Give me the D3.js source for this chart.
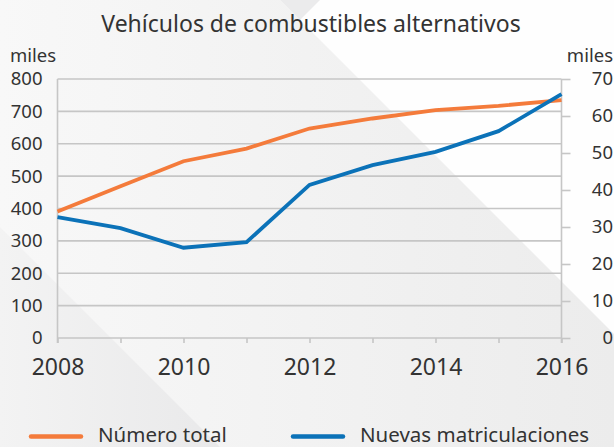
<!DOCTYPE html>
<html>
<head>
<meta charset="utf-8">
<script src="https://cdn.jsdelivr.net/npm/d3@7"></script>
<style>
    body { margin: 0; }
    text { font-family: "Noto Sans", "Open Sans", sans-serif; fill: #333; }
</style>
</head>
<body>
<svg id="chart" width="614" height="447"></svg>
<script>
    // data (thousands)
    var years = [2008, 2009, 2010, 2011, 2012, 2013, 2014, 2015, 2016];
    var numeroTotal = [391, 469, 546, 585, 647, 678, 704, 717, 735];
    var nuevasMatriculaciones = [32.7, 29.7, 24.4, 25.9, 41.4, 46.7, 50.3, 55.9, 65.9];
    var leftTicks = [0, 100, 200, 300, 400, 500, 600, 700, 800];
    var rightTicks = [0, 10, 20, 30, 40, 50, 60, 70];
    var yearLabels = [2008, 2010, 2012, 2014, 2016];

    var W = 614, H = 447;
    var margin = { top: 79, left: 57.5, right: 52.5, bottom: 109 };
    var svg1 = d3.select("#chart");

    // background with the diagonal shapes
    var defs = svg1.append("defs");
    var bg = defs.append("linearGradient").attr("id", "bg").attr("x1", 0).attr("x2", 1).attr("y1", 0).attr("y2", 0);
    bg.append("stop").attr("offset", "0%").attr("stop-color", "#f8f8f8");
    bg.append("stop").attr("offset", "100%").attr("stop-color", "#ececec");
    var dark = defs.append("linearGradient").attr("id", "dark").attr("x1", 0).attr("x2", 1).attr("y1", 0).attr("y2", 0);
    dark.append("stop").attr("offset", "0%").attr("stop-color", "#f3f3f3");
    dark.append("stop").attr("offset", "100%").attr("stop-color", "#e9e9ea");

    svg1.append("rect").attr("width", W).attr("height", H).attr("fill", "url(#bg)");
    svg1.append("polygon")
        .attr("points", "280,0 614,0 614,334")
        .attr("fill", "#fefefe");
    svg1.append("polygon")
        .attr("points", "280,0 320,0 300,20")
        .attr("fill", "#ebebec");
    svg1.append("polygon")
        .attr("points", "0,227 220,447 0,447")
        .attr("fill", "url(#dark)");

    var x = d3.scaleLinear()
        .domain([2008, 2016])
        .range([margin.left, W - margin.right]);

    var y = d3.scaleLinear()
        .domain([0, 800])
        .range([H - margin.bottom, margin.top]);

    var y2 = d3.scaleLinear()
        .domain([0, 70])
        .range([H - margin.bottom, margin.top]);

    // Title
    svg1.append("text")
        .attr("x", 311)
        .attr("y", 32)
        .attr("text-anchor", "middle")
        .style("font-size", "23px")
        .text("Vehículos de combustibles alternativos");

    // Gridlines
    svg1.append("g")
        .selectAll("line")
        .data(leftTicks)
        .enter()
        .append("line")
        .attr("x1", margin.left)
        .attr("x2", W - margin.right)
        .attr("y1", d => y(d))
        .attr("y2", d => y(d))
        .attr("stroke", "#c6c6c6")
        .attr("stroke-width", 1.6);

    // Left axis
    var yAxis = svg1.append("g")
        .attr("transform", "translate(" + margin.left + ",0)")
        .call(d3.axisLeft(y).tickValues(leftTicks).tickSize(0).tickPadding(15));
    yAxis.select(".domain").remove();
    yAxis.selectAll("text").style("font-size", "18.5px").attr("fill", "#333");
    svg1.append("text")
        .attr("x", 10)
        .attr("y", 62)
        .style("font-size", "18.5px")
        .text("miles");

    // Right axis
    var yAxis2 = svg1.append("g")
        .attr("transform", "translate(" + (W - margin.right) + ",0)")
        .call(d3.axisRight(y2).tickValues(rightTicks).tickSize(9).tickPadding(0).tickFormat(d => d));
    yAxis2.select(".domain").remove();
    yAxis2.selectAll("line").attr("stroke", "#c6c6c6").attr("stroke-width", 1.6);
    yAxis2.selectAll("text")
        .style("font-size", "18.5px")
        .attr("fill", "#333")
        .attr("text-anchor", "end")
        .attr("x", 613 - (W - margin.right));
    svg1.append("text")
        .attr("x", 613)
        .attr("y", 62)
        .attr("text-anchor", "end")
        .style("font-size", "18.5px")
        .text("miles");

    // vertical frame lines
    svg1.append("line")
        .attr("x1", margin.left).attr("x2", margin.left)
        .attr("y1", margin.top).attr("y2", H - margin.bottom + 5)
        .attr("stroke", "#c6c6c6").attr("stroke-width", 1.6);
    svg1.append("line")
        .attr("x1", W - margin.right).attr("x2", W - margin.right)
        .attr("y1", margin.top).attr("y2", H - margin.bottom + 5)
        .attr("stroke", "#c6c6c6").attr("stroke-width", 1.6);

    // X axis
    var xAxis = svg1.append("g")
        .attr("transform", "translate(0," + (H - margin.bottom) + ")")
        .call(d3.axisBottom(x).tickValues(years).tickSize(5).tickPadding(16)
            .tickFormat(d => yearLabels.indexOf(d) >= 0 ? d : ""));
    xAxis.select(".domain").remove();
    xAxis.selectAll("line").attr("stroke", "#c6c6c6").attr("stroke-width", 1.6);
    xAxis.selectAll("text").style("font-size", "23px").attr("fill", "#333");

    // Lines
    var lineLeft = d3.line()
        .x((d, i) => x(years[i]))
        .y(d => y(d));
    var lineRight = d3.line()
        .x((d, i) => x(years[i]))
        .y(d => y2(d));

    svg1.append("path")
        .datum(numeroTotal)
        .attr("d", lineLeft)
        .attr("fill", "none")
        .attr("stroke", "#f47b3b")
        .attr("stroke-width", 3.8);

    svg1.append("path")
        .datum(nuevasMatriculaciones)
        .attr("d", lineRight)
        .attr("fill", "none")
        .attr("stroke", "#0b72b8")
        .attr("stroke-width", 3.8);

    // Legend
    var legend = [
        { name: "Número total", color: "#f47b3b", x: 31 },
        { name: "Nuevas matriculaciones", color: "#0b72b8", x: 293 }
    ];
    var lg = svg1.selectAll(".legend")
        .data(legend)
        .enter()
        .append("g")
        .attr("class", "legend");
    lg.append("line")
        .attr("x1", d => d.x)
        .attr("x2", d => d.x + 50)
        .attr("y1", 436.5)
        .attr("y2", 436.5)
        .attr("stroke", d => d.color)
        .attr("stroke-width", 4.5)
        .attr("stroke-linecap", "round");
    lg.append("text")
        .attr("x", d => d.x + 67)
        .attr("y", 441.5)
        .style("font-size", "20.5px")
        .text(d => d.name);
</script>
</body>
</html>
